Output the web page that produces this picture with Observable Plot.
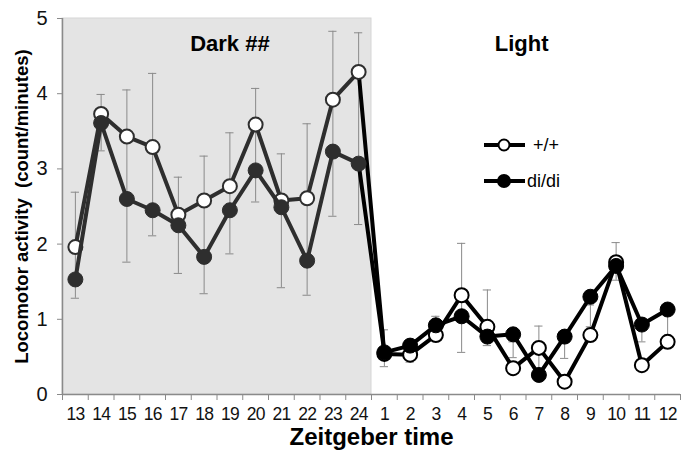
<!DOCTYPE html>
<html>
<head>
<meta charset="utf-8">
<script src="https://cdn.jsdelivr.net/npm/d3@7"></script>
<script src="https://cdn.jsdelivr.net/npm/@observablehq/plot@0.6"></script>
<style>
  html, body { margin: 0; padding: 0; background: #fff; }
  #chart { position: relative; width: 681px; height: 460px; }
  svg { font-family: "Liberation Sans", Arial, sans-serif; }
  g.xlabels text { letter-spacing: -0.9px; }
</style>
</head>
<body>
<div id="chart"></div>
<script>
// Zeitgeber time categories (dark phase 13-24, then light phase 1-12)
const labels = ["13","14","15","16","17","18","19","20","21","22","23","24",
                "1","2","3","4","5","6","7","8","9","10","11","12"];
const darkCount = 12;
const seriesNames = ["+/+", "di/di"];
// +/+ (open circles)
const wt = [1.96,3.73,3.43,3.29,2.39,2.58,2.77,3.59,2.58,2.61,3.92,4.29,
            0.54,0.53,0.79,1.32,0.90,0.35,0.62,0.17,0.79,1.76,0.39,0.70];
// di/di (filled circles)
const didi = [1.53,3.61,2.60,2.45,2.25,1.83,2.45,2.98,2.49,1.78,3.23,3.07,
              0.56,0.65,0.92,1.04,0.77,0.80,0.26,0.77,1.30,1.71,0.93,1.13];
// error bar extents
const errHigh = [2.69,3.99,4.05,4.27,2.89,3.17,3.48,4.07,3.20,3.60,4.83,4.81,
                 0.86,0.68,1.04,2.01,1.39,0.70,0.91,0.77,1.19,2.02,0.90,1.13];
const errLow  = [1.28,3.24,1.76,2.11,1.61,1.34,1.87,2.56,1.42,1.32,2.37,2.26,
                 0.37,0.43,0.80,0.56,0.65,0.49,0.30,0.48,0.90,1.52,0.70,0.72];
const yTicks = [0,1,2,3,4,5];
const phaseLabels = ["Dark ##", "Light"];

const n = labels.length;
const yMax = 5;
const rows = labels.map((l, i) => ({
  x: i + 0.5, label: l, wt: wt[i], di: didi[i], lo: errLow[i], hi: errHigh[i]
}));
const darkRows = rows.slice(0, darkCount);
const lightLine = rows.slice(darkCount - 1);
const lightPts = rows.slice(darkCount);

const darkC = "#2e2e2e", lightC = "#000";
const gridC = "#8a8a8a";
const capHalf = 0.16;

const plot = Plot.plot({
  width: 681,
  height: 460,
  marginLeft: 62,
  marginRight: 1,
  marginTop: 18,
  marginBottom: 66,
  x: { domain: [0, n] },
  y: { domain: [0, yMax] },
  style: { fontFamily: "'Liberation Sans', Arial, sans-serif", background: "#fff" },
  marks: [
    Plot.rect([{ x1: 0, x2: darkCount, y1: 0, y2: yMax }],
      { x1: "x1", x2: "x2", y1: "y1", y2: "y2", fill: "#e4e4e4", stroke: "#d6d6d6", strokeWidth: 1 }),
    // error bars
    Plot.ruleX(rows, { x: "x", y1: "lo", y2: "hi", stroke: gridC, strokeWidth: 1 }),
    Plot.ruleY(rows, { y: "hi", x1: d => d.x - capHalf, x2: d => d.x + capHalf, stroke: gridC, strokeWidth: 1 }),
    Plot.ruleY(rows, { y: "lo", x1: d => d.x - capHalf, x2: d => d.x + capHalf, stroke: gridC, strokeWidth: 1 }),
    // +/+ series
    Plot.line(darkRows, { x: "x", y: "wt", stroke: darkC, strokeWidth: 4, strokeLinejoin: "round" }),
    Plot.line(lightLine, { x: "x", y: "wt", stroke: lightC, strokeWidth: 4, strokeLinejoin: "round" }),
    Plot.dot(darkRows, { x: "x", y: "wt", r: 7, fill: "#fff", stroke: darkC, strokeWidth: 2 }),
    Plot.dot(lightPts, { x: "x", y: "wt", r: 7, fill: "#fff", stroke: lightC, strokeWidth: 2 }),
    // di/di series
    Plot.line(darkRows, { x: "x", y: "di", stroke: darkC, strokeWidth: 4, strokeLinejoin: "round" }),
    Plot.line(lightLine, { x: "x", y: "di", stroke: lightC, strokeWidth: 4, strokeLinejoin: "round" }),
    Plot.dot(darkRows, { x: "x", y: "di", r: 7.5, fill: darkC, stroke: darkC, strokeWidth: 1 }),
    Plot.dot(lightPts, { x: "x", y: "di", r: 7.5, fill: lightC, stroke: lightC, strokeWidth: 1 }),
    // axis lines
    Plot.ruleY([0], { stroke: gridC, strokeWidth: 1.5 }),
    Plot.ruleX([0], { stroke: gridC, strokeWidth: 1.5 }),
    // axes
    Plot.axisY({ ticks: yTicks, tickSize: 5, tickPadding: 10, fontSize: 20, tickFormat: d3.format("d"),
                 stroke: gridC, fill: "#111", label: null }),
    Plot.axisX({ ticks: d3.range(n + 1), tickSize: 6, tickFormat: () => "", stroke: gridC, label: null }),
    Plot.axisX({ ticks: rows.map(d => d.x), tickSize: 0, tickPadding: 13, fontSize: 17.5,
                 tickFormat: v => labels[Math.floor(v)], fill: "#111", label: null, className: "xlabels" }),
    // phase labels
    Plot.text([phaseLabels[0]], { x: darkCount / 2 + 0.5, frameAnchor: "top", dy: 17, fontSize: 22, fontWeight: "bold", fill: "#000" }),
    Plot.text([phaseLabels[1]], { x: darkCount + (n - darkCount) / 2 - 0.17, frameAnchor: "top", dy: 17, fontSize: 22, fontWeight: "bold", fill: "#000" }),
    // axis titles
    Plot.text(["Zeitgeber time"], { frameAnchor: "bottom", dy: 50, fontSize: 24, fontWeight: "bold", fill: "#000" }),
    Plot.text(["Locomotor activity  (count/minutes)"], { frameAnchor: "left", dx: -40, rotate: -90, textAnchor: "middle",
                 fontSize: 18.5, fontWeight: "bold", fill: "#000" })
  ]
});

document.getElementById("chart").appendChild(plot);

// legend (inside plot area)
const svg = d3.select(plot);
const lg = svg.append("g").attr("class", "legend").attr("text-anchor", "start");
const legendItems = [
  { name: seriesNames[0], fill: "#fff", r: 5.5, y: 145, tx: 533 },
  { name: seriesNames[1], fill: "#000", r: 6, y: 181, tx: 527 }
];
legendItems.forEach(it => {
  lg.append("line").attr("x1", 484).attr("x2", 525).attr("y1", it.y).attr("y2", it.y)
    .attr("stroke", "#000").attr("stroke-width", 4);
  lg.append("circle").attr("cx", 504).attr("cy", it.y).attr("r", it.r)
    .attr("fill", it.fill).attr("stroke", "#000").attr("stroke-width", 2);
  lg.append("text").attr("x", it.tx).attr("y", it.y).attr("dy", "0.35em")
    .attr("font-size", 18).attr("fill", "#000").text(it.name);
});
</script>
</body>
</html>
